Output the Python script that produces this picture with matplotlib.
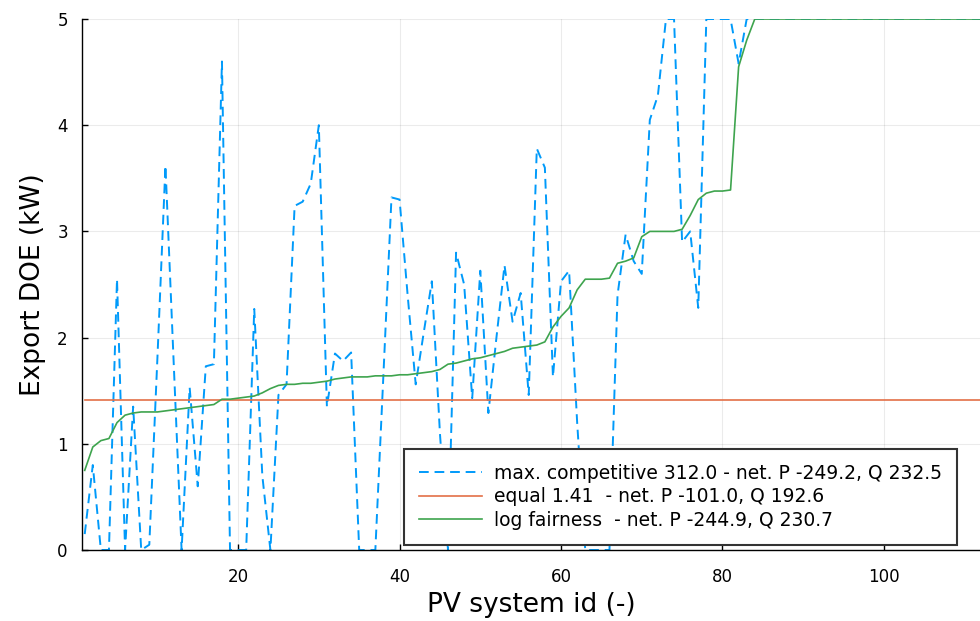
import matplotlib
matplotlib.use("Agg")
import matplotlib.pyplot as plt
import numpy as np

# PV system ids and export DOEs (kW)
max_competitive = [
    0.15, 0.8, 0.0, 0.0, 2.55, 0.0, 1.35, 0.0, 0.05, 1.8,
    3.62, 1.8, 0.0, 1.53, 0.6, 1.73, 1.75, 4.6, 0.0, 0.0,
    0.0, 2.27, 0.7, 0.0, 1.46, 1.56, 3.24, 3.28, 3.45, 4.0,
    1.35, 1.85, 1.78, 1.86, 0.0, 0.0, 0.0, 1.65, 3.32, 3.3,
    2.4, 1.56, 2.05, 2.53, 1.1, 0.0, 2.8, 2.5, 1.43, 2.63,
    1.29, 2.0, 2.68, 2.15, 2.42, 1.46, 3.78, 3.6, 1.63, 2.53,
    2.63, 1.2, 0.0, 0.0, 0.0, 0.0, 2.4, 2.97, 2.72, 2.6,
    4.05, 4.28, 5.0, 5.0, 2.9, 3.0, 2.28, 5.0, 5.0, 5.0,
    5.0, 4.58, 5.0, 5.0, 5.0, 5.0, 5.0, 5.0, 5.0, 5.0,
    5.0, 5.0, 5.0, 5.0, 5.0, 5.0, 5.0, 5.0, 5.0, 5.0,
    5.0, 5.0, 5.0, 5.0, 5.0, 5.0, 5.0, 5.0, 5.0, 5.0,
    5.0, 5.0, 5.0,
]
log_fairness = [
    0.75, 0.97, 1.03, 1.05, 1.2, 1.27, 1.29, 1.3, 1.3, 1.3,
    1.31, 1.32, 1.33, 1.34, 1.35, 1.36, 1.37, 1.42, 1.42, 1.43,
    1.44, 1.45, 1.48, 1.52, 1.55, 1.56, 1.56, 1.57, 1.57, 1.58,
    1.59, 1.61, 1.62, 1.63, 1.63, 1.63, 1.64, 1.64, 1.64, 1.65,
    1.65, 1.66, 1.67, 1.68, 1.7, 1.75, 1.76, 1.78, 1.8, 1.81,
    1.83, 1.85, 1.87, 1.9, 1.91, 1.92, 1.93, 1.96, 2.1, 2.2,
    2.28, 2.45, 2.55, 2.55, 2.55, 2.56, 2.7, 2.72, 2.75, 2.95,
    3.0, 3.0, 3.0, 3.0, 3.02, 3.15, 3.3, 3.36, 3.38, 3.38,
    3.39, 4.55, 4.8, 5.0, 5.0, 5.0, 5.0, 5.0, 5.0, 5.0,
    5.0, 5.0, 5.0, 5.0, 5.0, 5.0, 5.0, 5.0, 5.0, 5.0,
    5.0, 5.0, 5.0, 5.0, 5.0, 5.0, 5.0, 5.0, 5.0, 5.0,
    5.0, 5.0, 5.0,
]
equal_doe = 1.41
system_ids = np.arange(1, len(max_competitive) + 1)

labels = [
    "max. competitive 312.0 - net. P -249.2, Q 232.5",
    "equal 1.41  - net. P -101.0, Q 192.6",
    "log fairness  - net. P -244.9, Q 230.7",
]
colors = ["#009AFA", "#E36F47", "#3EA44E"]

plt.rcParams["font.family"] = "DejaVu Sans"

fig = plt.figure(figsize=(9.8, 6.21), dpi=100)
ax = fig.add_axes([0.0834, 0.1143, 0.9166, 0.8551])

ax.plot(system_ids, max_competitive, color=colors[0], lw=1.4,
        linestyle=(0, (5, 3)), label=labels[0])
ax.plot(system_ids, np.full(len(system_ids), equal_doe), color=colors[1],
        lw=1.2, label=labels[1])
ax.plot(system_ids, log_fairness, color=colors[2], lw=1.2, label=labels[2])

ax.set_xlim(0.63, 111.9)
ax.set_ylim(0, 5)
ax.set_xticks([20, 40, 60, 80, 100])
ax.set_yticks([0, 1, 2, 3, 4, 5])
ax.grid(True, color="black", alpha=0.08, lw=0.8)
ax.set_axisbelow(True)

for side in ["top", "right"]:
    ax.spines[side].set_visible(False)
for side in ["left", "bottom"]:
    ax.spines[side].set_linewidth(1.0)
ax.tick_params(direction="in", length=4, width=1, labelsize=12)
ax.tick_params(axis="x", pad=13)
ax.tick_params(axis="y", pad=10)

ax.set_xlabel("PV system id (-)", fontsize=19, labelpad=4)
ax.set_ylabel("Export DOE (kW)", fontsize=19, labelpad=8)

leg = ax.legend(loc="lower right", bbox_to_anchor=(0.974, 0.0094),
                borderaxespad=0, fontsize=13.5, handlelength=3.4,
                fancybox=False, framealpha=1, edgecolor="#333333",
                borderpad=0.8, labelspacing=0.25, handletextpad=0.6)
leg.get_frame().set_linewidth(1.5)

fig.savefig("out.png", dpi=100)
